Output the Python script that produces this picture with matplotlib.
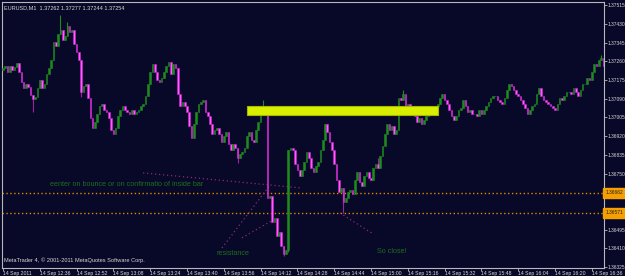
import matplotlib
matplotlib.use("Agg")
import matplotlib.pyplot as plt
import matplotlib.patches as patches
import numpy as np

# ---------------- data (EURUSD M1, 14 Sep 2011) ----------------
first_open = 1.37220
closes = [
    1.37229, 1.37238, 1.37211, 1.37238, 1.37220, 1.37234, 1.37252, 1.37211, 1.37166, 1.37139,
    1.37157, 1.37143, 1.37107, 1.37089, 1.37098, 1.37139, 1.37175, 1.37139, 1.37157, 1.37202,
    1.37229, 1.37266, 1.37347, 1.37329, 1.37384, 1.37402, 1.37356, 1.37375, 1.37420, 1.37393,
    1.37402, 1.37338, 1.37302, 1.37266, 1.37120, 1.37148, 1.37157, 1.37093, 1.37002, 1.36957,
    1.36984, 1.37020, 1.37057, 1.37066, 1.37039, 1.37030, 1.37002, 1.36948, 1.36930, 1.36957,
    1.37011, 1.37039, 1.37057, 1.37039, 1.37030, 1.37020, 1.37039, 1.37020, 1.37030, 1.37039,
    1.37057, 1.37066, 1.37102, 1.37157, 1.37211, 1.37247, 1.37211, 1.37175, 1.37166, 1.37184,
    1.37211, 1.37238, 1.37257, 1.37202, 1.37247, 1.37229, 1.37111, 1.37057, 1.37075, 1.37057,
    1.37030, 1.36966, 1.36912, 1.36975, 1.37030, 1.37066, 1.37075, 1.37084, 1.37030, 1.37011,
    1.36975, 1.36930, 1.36948, 1.36957, 1.36930, 1.36893, 1.36921, 1.36939, 1.36884, 1.36857,
    1.36884, 1.36866, 1.36821, 1.36839, 1.36848, 1.36866, 1.36921, 1.36939, 1.36902, 1.36893,
    1.36948, 1.36984, 1.37030, 1.37039, 1.37030, 1.36639, 1.36648, 1.36530, 1.36548, 1.36467,
    1.36485, 1.36421, 1.36385, 1.36403, 1.36857, 1.36866, 1.36857, 1.36793, 1.36766, 1.36739,
    1.36766, 1.36802, 1.36848, 1.36821, 1.36775, 1.36757, 1.36784, 1.36802, 1.36857, 1.36902,
    1.36975, 1.36939, 1.36893, 1.36857, 1.36793, 1.36721, 1.36666, 1.36685, 1.36621, 1.36639,
    1.36666, 1.36675, 1.36657, 1.36721, 1.36757, 1.36712, 1.36694, 1.36739, 1.36757, 1.36730,
    1.36721, 1.36775, 1.36793, 1.36775, 1.36830, 1.36875, 1.36930, 1.36975, 1.36948, 1.36966,
    1.36930, 1.36948, 1.37093, 1.37084, 1.37111, 1.37039, 1.37066, 1.37039, 1.37020, 1.37011,
    1.36984, 1.37002, 1.36975, 1.36993, 1.37011, 1.37030, 1.37039, 1.37048, 1.37057, 1.37066,
    1.37093, 1.37111, 1.37084, 1.37066, 1.37039, 1.37011, 1.36993, 1.37011, 1.37039, 1.37048,
    1.37084, 1.37057, 1.37030, 1.37039, 1.37020, 1.37020, 1.37011, 1.37039, 1.37020, 1.37039,
    1.37057, 1.37075, 1.37093, 1.37102, 1.37102, 1.37084, 1.37075, 1.37066, 1.37093, 1.37129,
    1.37157, 1.37148, 1.37129, 1.37111, 1.37102, 1.37084, 1.37066, 1.37048, 1.37020, 1.37039,
    1.37057, 1.37066, 1.37111, 1.37139, 1.37102, 1.37084, 1.37075, 1.37066, 1.37057, 1.37048,
    1.37039, 1.37066, 1.37093, 1.37084, 1.37102, 1.37120, 1.37120, 1.37111, 1.37139, 1.37120,
    1.37102, 1.37129, 1.37157, 1.37157, 1.37184, 1.37175, 1.37211, 1.37247, 1.37238, 1.37266,
    1.37275, 1.37238,
]
wick_high = {25: 1.37470, 28: 1.37440, 113: 1.37084, 174: 1.37129, 260: 1.37288, 163: 1.36820}
wick_low = {13: 1.37030, 34: 1.37098, 122: 1.36376, 124: 1.36395, 148: 1.36571, 102: 1.36800}

price_ticks = [1.37515, 1.37430, 1.37345, 1.37260, 1.37175, 1.37090, 1.37005, 1.36920,
               1.36835, 1.36750, 1.36665, 1.36580, 1.36495, 1.36410, 1.36325]
time_labels = ["14 Sep 2011", "14 Sep 12:36", "14 Sep 12:52", "14 Sep 13:08", "14 Sep 13:24",
               "14 Sep 13:40", "14 Sep 13:56", "14 Sep 14:12", "14 Sep 14:28", "14 Sep 14:44",
               "14 Sep 15:00", "14 Sep 15:16", "14 Sep 15:32", "14 Sep 15:48", "14 Sep 16:04",
               "14 Sep 16:20", "14 Sep 16:36"]
bars_per_label = 16

header = "EURUSD,M1  1.37262 1.37277 1.37244 1.37254"
copyright_txt = "MetaTrader 4, \u00a9 2001-2011 MetaQuotes Software Corp."

# chart objects drawn by the user (time in bars, price)
hlines = [1.36662, 1.36571]
hline_labels = ["1.36662", "1.36571"]
zone = dict(bar0=106.1, bar1=189.1, p0=1.37016, p1=1.37057)
trend_lines = [((60.9, 1.36753), (129.1, 1.36685)),
               ((95.2, 1.36412), (116.1, 1.36698)),
               ((103.9, 1.36458), (117.4, 1.36539)),
               ((146.5, 1.36571), (160.9, 1.36476))]
notes = [(20.4, 1.36698, "eenter on bounce or on confirmatio of inside bar"),
         (93.0, 1.36385, "resistance"),
         (162.6, 1.36394, "So close!")]

# ---------------- styling ----------------
BG = "#080828"
BULL = "#1f8a1f"
BEAR = "#ff5cff"
BEAR_EDGE = "#d020d0"
BEAR_WICK = "#a020a0"
FG = "#d8d8d8"
FONT = "Liberation Sans"
SMALL = 3.5

fig = plt.figure(figsize=(6.25, 2.76), dpi=100, facecolor=BG)
ax = fig.add_axes([2 / 625, 8 / 276, 602 / 625, 266 / 276])
ax.set_facecolor(BG)

n = len(closes)
opens = [first_open] + closes[:-1]
for i in range(n):
    o, c = opens[i], closes[i]
    hi = max(wick_high.get(i, max(o, c)), max(o, c))
    lo = min(wick_low.get(i, min(o, c)), min(o, c))
    bull = c >= o
    wc = BULL if bull else BEAR_WICK
    if hi > max(o, c) or lo < min(o, c):
        ax.vlines(i, lo, hi, color=wc, lw=0.8, zorder=2)
    if bull:
        ax.bar(i, c - o, bottom=o, width=0.7, color=BULL, edgecolor=BULL, lw=0.4, zorder=3)
    else:
        ax.bar(i, o - c, bottom=c, width=0.7, color=BEAR, edgecolor=BEAR_EDGE, lw=0.4, zorder=3)

# zone rectangle
ax.add_patch(patches.Rectangle((zone["bar0"], zone["p0"]), zone["bar1"] - zone["bar0"],
                               zone["p1"] - zone["p0"], facecolor="#d8f000",
                               edgecolor="#a8b800", lw=0.8, zorder=4))

# horizontal dotted levels
for lvl in hlines:
    ax.axhline(lvl, color="#e08a00", lw=1.0, ls=(0, (1.0, 1.8)), zorder=1)

# trend lines
for (b0, p0), (b1, p1) in trend_lines:
    ax.plot([b0, b1], [p0, p1], color="#8a2a7a", lw=0.9, ls=(0, (1, 2.2)), zorder=1)

for b, p, t in notes:
    ax.text(b, p, t, color="#1d6e1d", fontsize=5.2, family=FONT, va="center", ha="left", zorder=5)

ax.set_xlim(-0.43, 261.3)
ax.set_ylim(1.36321, 1.37529)

for s in ax.spines.values():
    s.set_color("#b8b8b8")
    s.set_linewidth(0.8)

# price axis: labels hidden where the orange level labels cover them
covered = {1.36665, 1.36580}
ax.yaxis.tick_right()
ax.set_yticks(price_ticks)
ax.set_yticklabels(["" if p in covered else f"{p:.5f}" for p in price_ticks])
ax.tick_params(axis="y", colors="#b8b8b8", labelcolor=FG, labelsize=SMALL, length=2.0, width=0.6, pad=0.8)
for lab in ax.get_yticklabels():
    lab.set_family(FONT)

xt = np.arange(len(time_labels)) * bars_per_label
ax.set_xticks(xt)
ax.set_xticklabels(time_labels, ha="left")
ax.tick_params(axis="x", colors="#b8b8b8", labelcolor=FG, labelsize=3.7, length=2.2, width=0.6, pad=0.3)
for lab in ax.get_xticklabels():
    lab.set_family(FONT)

# orange price labels for the levels
for lvl, lab in zip(hlines, hline_labels):
    ax.text(1.0022, lvl, lab, transform=ax.get_yaxis_transform(), fontsize=SMALL, family=FONT,
            color="#202020", va="center", ha="left", clip_on=False, zorder=6,
            bbox=dict(boxstyle="square,pad=0.45", facecolor="#f5a000", edgecolor="#f5a000"))

ax.text(0.003, 0.988, header, transform=ax.transAxes, fontsize=4.0, family=FONT,
        color=FG, va="top", ha="left")
ax.text(0.003, 0.02, copyright_txt, transform=ax.transAxes, fontsize=4.1, family=FONT,
        color=FG, va="bottom", ha="left")

fig.savefig("out.png", dpi=100, facecolor=BG)
